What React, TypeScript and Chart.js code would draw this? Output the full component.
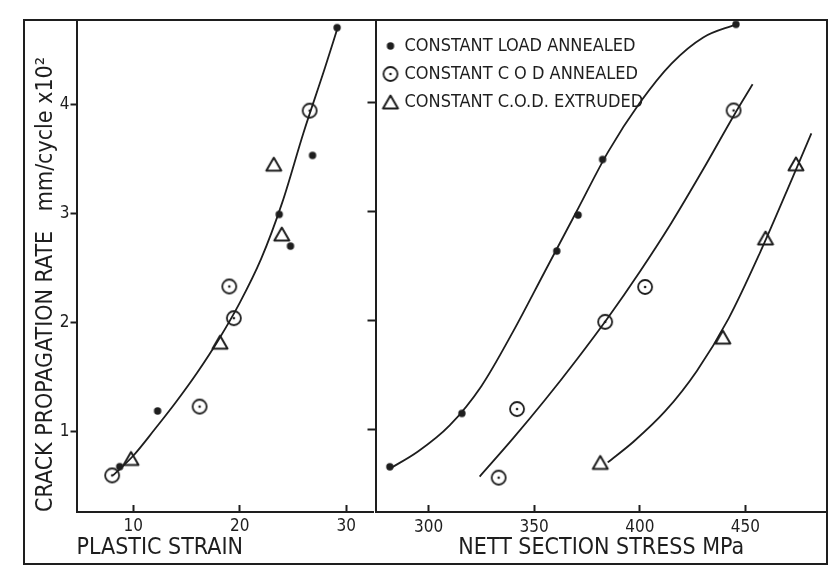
import { useEffect, useRef } from "react";
import { Chart, registerables } from "chart.js";

Chart.register(...registerables);

// ---------- data ----------
const seriesNames = [
  "CONSTANT LOAD ANNEALED",
  "CONSTANT C O D ANNEALED",
  "CONSTANT C.O.D. EXTRUDED",
];

const yTicks = [1, 2, 3, 4];
const strainTicks = [10, 20, 30];
const stressTicks = [300, 350, 400, 450];

// Left panel: plastic strain
const strainLoadX = [8.73, 12.29, 23.71, 24.77, 26.84, 29.15];
const strainLoadY = [0.68, 1.19, 2.99, 2.7, 3.53, 4.7];
const strainCodAnnX = [8.02, 16.23, 19.02, 19.45, 26.57];
const strainCodAnnY = [0.6, 1.23, 2.33, 2.04, 3.94];
const strainCodExtX = [9.79, 18.15, 23.2, 23.95];
const strainCodExtY = [0.755, 1.82, 3.45, 2.81];
const strainFitX = [8.1, 10, 12, 14, 16, 18, 20, 22, 24, 26, 28, 29.2];
const strainFitY = [0.6, 0.78, 1.02, 1.27, 1.54, 1.84, 2.18, 2.58, 3.1, 3.74, 4.33, 4.7];

// Right panel: nett section stress
const stressLoadX = [281.7, 315.8, 360.7, 370.8, 382.4, 445.5];
const stressLoadY = [0.66, 1.15, 2.64, 2.97, 3.48, 4.72];
const stressCodAnnX = [333.2, 341.9, 383.6, 402.5, 444.4];
const stressCodAnnY = [0.56, 1.19, 1.99, 2.31, 3.93];
const stressCodExtX = [381.3, 439.3, 459.5, 473.9];
const stressCodExtY = [0.7, 1.85, 2.76, 3.44];
const loadFitX = [281.4, 295, 310, 325, 340, 355, 370, 385, 400, 415, 430, 445.5];
const loadFitY = [0.64, 0.8, 1.04, 1.4, 1.9, 2.45, 3.0, 3.55, 4.0, 4.36, 4.6, 4.72];
const codAnnFitX = [324.2, 340, 355, 370, 385, 400, 415, 430, 445, 453.4];
const codAnnFitY = [0.57, 0.92, 1.27, 1.64, 2.03, 2.45, 2.9, 3.39, 3.9, 4.17];
const codExtFitX = [384.8, 397, 412, 427, 442, 457, 472, 481.2];
const codExtFitY = [0.7, 0.89, 1.17, 1.54, 2.02, 2.63, 3.3, 3.72];

// ---------- styling ----------
const INK = "#1e1e1e";
const FAMILY = '"DejaVu Sans Condensed", "DejaVu Sans", sans-serif';

const pts = (xs: number[], ys: number[]) => xs.map((x, i) => ({ x, y: ys[i] }));

function makeMarker(kind: string): HTMLCanvasElement {
  const c = document.createElement("canvas");
  if (kind === "dot") {
    c.width = 10;
    c.height = 10;
    const ctx = c.getContext("2d")!;
    ctx.fillStyle = INK;
    ctx.beginPath();
    ctx.arc(5, 5, 3.7, 0, Math.PI * 2);
    ctx.fill();
  } else if (kind === "circle") {
    c.width = 20;
    c.height = 20;
    const ctx = c.getContext("2d")!;
    ctx.strokeStyle = INK;
    ctx.lineWidth = 1.8;
    ctx.beginPath();
    ctx.arc(10, 10, 7, 0, Math.PI * 2);
    ctx.stroke();
    ctx.fillStyle = INK;
    ctx.beginPath();
    ctx.arc(10, 10, 1.3, 0, Math.PI * 2);
    ctx.fill();
  } else {
    c.width = 20;
    c.height = 20;
    const ctx = c.getContext("2d")!;
    ctx.strokeStyle = INK;
    ctx.lineWidth = 2;
    ctx.lineJoin = "round";
    ctx.beginPath();
    ctx.moveTo(10, 3.5);
    ctx.lineTo(17.5, 16.5);
    ctx.lineTo(2.5, 16.5);
    ctx.closePath();
    ctx.stroke();
  }
  return c;
}

function scatterSet(label: string, data: { x: number; y: number }[], marker: HTMLCanvasElement) {
  return {
    label,
    data,
    pointStyle: marker,
    pointRadius: 6,
    pointHoverRadius: 6,
    backgroundColor: INK,
    borderColor: INK,
    showLine: false,
  };
}

function curveSet(data: { x: number; y: number }[]) {
  return {
    label: "fit",
    data,
    showLine: true,
    pointRadius: 0,
    pointHoverRadius: 0,
    borderColor: INK,
    backgroundColor: "transparent",
    borderWidth: 1.8,
    cubicInterpolationMode: "monotone" as const,
    fill: false,
  };
}

const tickFont = { family: FAMILY, size: 17 };
const titleFont = { family: FAMILY, size: 23 };

export default function App() {
  const leftRef = useRef<HTMLCanvasElement | null>(null);
  const rightRef = useRef<HTMLCanvasElement | null>(null);

  useEffect(() => {
    const dot = makeMarker("dot");
    const circ = makeMarker("circle");
    const tri = makeMarker("triangle");

    const left = new Chart(leftRef.current!, {
      type: "scatter",
      data: {
        datasets: [
          scatterSet(seriesNames[0], pts(strainLoadX, strainLoadY), dot),
          scatterSet(seriesNames[1], pts(strainCodAnnX, strainCodAnnY), circ),
          scatterSet(seriesNames[2], pts(strainCodExtX, strainCodExtY), tri),
          curveSet(pts(strainFitX, strainFitY)),
        ] as any,
      },
      options: {
        animation: false,
        responsive: false,
        maintainAspectRatio: false,
        layout: { padding: { top: 20, right: 4.5, bottom: 0, left: 0 } },
        plugins: { legend: { display: false }, tooltip: { enabled: false } },
        scales: {
          x: {
            type: "linear",
            min: 4.67,
            max: 32.52,
            afterBuildTicks: (s: any) => {
              s.ticks = strainTicks.map((v) => ({ value: v }));
            },
            afterFit: (s: any) => {
              s.height = 68;
            },
            grid: { display: true, drawOnChartArea: false, drawTicks: true, tickLength: -7, tickColor: INK, tickWidth: 2 },
            border: { display: true, color: INK, width: 2 },
            ticks: { color: INK, font: tickFont, padding: 11, maxRotation: 0, autoSkip: false },
            title: {
              display: true,
              text: "PLASTIC STRAIN",
              align: "start",
              color: INK,
              font: titleFont,
              padding: { top: 0, bottom: 17.7 },
            },
          },
          y: {
            type: "linear",
            min: 0.265,
            max: 4.77,
            afterBuildTicks: (s: any) => {
              s.ticks = yTicks.map((v) => ({ value: v }));
            },
            afterFit: (s: any) => {
              s.width = 76.5;
            },
            grid: { display: true, drawOnChartArea: false, drawTicks: true, tickLength: 6, tickColor: INK, tickWidth: 2 },
            border: { display: true, color: INK, width: 2 },
            ticks: { color: INK, font: tickFont, padding: 1 },
            title: {
              display: true,
              text: "CRACK PROPAGATION RATE   mm/cycle x10\u00b2",
              align: "start",
              color: INK,
              font: titleFont,
              padding: { top: 32.2, bottom: 0 },
            },
          },
        },
      } as any,
    });

    const right = new Chart(rightRef.current!, {
      type: "scatter",
      data: {
        datasets: [
          scatterSet(seriesNames[0], pts(stressLoadX, stressLoadY), dot),
          scatterSet(seriesNames[1], pts(stressCodAnnX, stressCodAnnY), circ),
          scatterSet(seriesNames[2], pts(stressCodExtX, stressCodExtY), tri),
          curveSet(pts(loadFitX, loadFitY)),
          curveSet(pts(codAnnFitX, codAnnFitY)),
          curveSet(pts(codExtFitX, codExtFitY)),
        ] as any,
      },
      options: {
        animation: false,
        responsive: false,
        maintainAspectRatio: false,
        layout: { padding: { top: 20, right: 12, bottom: 0, left: 0 } },
        plugins: {
          tooltip: { enabled: false },
          legend: {
            display: true,
            position: "chartArea",
            align: "start",
            title: { display: true, text: " ", font: { size: 5 }, padding: { top: 1, bottom: 20 } },
            labels: {
              usePointStyle: true,
              pointStyleWidth: 10,
              padding: 10,
              color: INK,
              font: { family: FAMILY, size: 18 },
              filter: (item: any) => item.datasetIndex < 3,
            },
          },
        },
        scales: {
          x: {
            type: "linear",
            min: 274.9,
            max: 488.6,
            afterBuildTicks: (s: any) => {
              s.ticks = stressTicks.map((v) => ({ value: v }));
            },
            afterFit: (s: any) => {
              s.height = 68;
            },
            grid: { display: true, drawOnChartArea: false, drawTicks: true, tickLength: -7, tickColor: INK, tickWidth: 2 },
            border: { display: true, color: INK, width: 2 },
            ticks: { color: INK, font: tickFont, padding: 12, maxRotation: 0, autoSkip: false },
            title: {
              display: true,
              text: "NETT SECTION STRESS MPa",
              align: "center",
              color: INK,
              font: titleFont,
              padding: { top: 0, bottom: 17.7 },
            },
          },
          y: {
            type: "linear",
            min: 0.245,
            max: 4.76,
            afterBuildTicks: (s: any) => {
              s.ticks = yTicks.map((v) => ({ value: v }));
            },
            afterFit: (s: any) => {
              s.width = 15.5;
            },
            grid: { display: true, drawOnChartArea: false, drawTicks: true, tickLength: 8, tickColor: INK, tickWidth: 2 },
            border: { display: true, color: INK, width: 2 },
            ticks: { display: false },
          },
        },
      } as any,
    });

    return () => {
      left.destroy();
      right.destroy();
    };
  }, []);

  return (
    <div style={{ position: "absolute", left: 0, top: 0, width: 839, height: 580, background: "#fff" }}>
      <div
        style={{
          position: "absolute",
          left: 23,
          top: 19,
          width: 805,
          height: 546,
          border: `2px solid ${INK}`,
          boxSizing: "border-box",
        }}
      />
      <canvas
        ref={leftRef}
        width={380}
        height={580}
        style={{ position: "absolute", left: 0, top: 0, width: 380, height: 580 }}
      />
      <canvas
        ref={rightRef}
        width={479}
        height={580}
        style={{ position: "absolute", left: 360, top: 0, width: 479, height: 580 }}
      />
    </div>
  );
}
